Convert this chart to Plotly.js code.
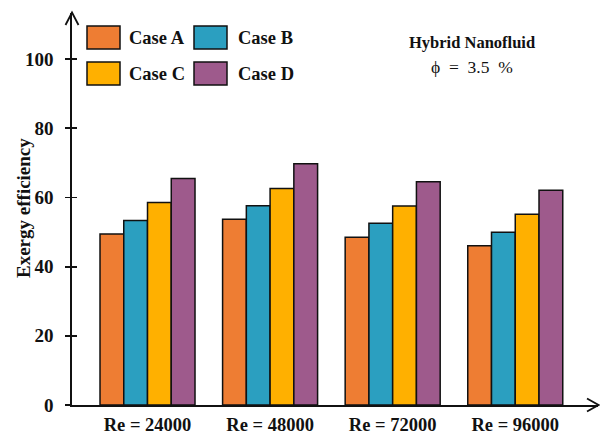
<!DOCTYPE html>
<html>
<head>
<meta charset="utf-8">
<script src="https://cdn.plot.ly/plotly-3.0.1.min.js"></script>
<style>html,body{margin:0;padding:0;background:#fff;}#chart{width:600px;height:436px;}</style>
</head>
<body>
<div id="chart"></div>
<script>
const categories = ["Re = 24000", "Re = 48000", "Re = 72000", "Re = 96000"];
const seriesNames = ["Case A", "Case B", "Case C", "Case D"];
const caseA = [49.4, 53.7, 48.5, 46.0];
const caseB = [53.3, 57.6, 52.5, 49.9];
const caseC = [58.5, 62.6, 57.5, 55.1];
const caseD = [65.5, 69.7, 64.5, 62.1];
const colors = ["#EE7D33", "#2B9FC0", "#FFB000", "#9E5A8C"];
const yTicks = [0, 20, 40, 60, 80, 100];
const yTitle = "Exergy efficiency";

const xIdx = categories.map((c, i) => i);
const allSeries = [caseA, caseB, caseC, caseD];
const traces = allSeries.map((vals, k) => ({
  type: "bar",
  name: seriesNames[k],
  x: xIdx,
  y: vals,
  marker: {color: colors[k], line: {color: "#111", width: 1.5}},
  showlegend: false,
  hoverinfo: "y"
}));
// invisible trace for inner ticks on y axis
traces.push({type: "scatter", x: [0], y: [0], yaxis: "y2", mode: "markers", marker: {opacity: 0}, showlegend: false, hoverinfo: "skip"});

const F = "Liberation Serif, Times New Roman, serif";
const L = 72, R = 598, T = 13, B = 405;
const W = 600, H = 436;
function px(x) { return (x - L) / (R - L); }
function py(y) { return (B - y) / (B - T); }

const shapes = [];
const annotations = [];
// legend boxes
const legendPos = [
  {bx: 87, by: 26, tx: 127},
  {bx: 194, by: 26, tx: 236},
  {bx: 87, by: 62, tx: 127},
  {bx: 194, by: 62, tx: 236}
];
legendPos.forEach((p, k) => {
  shapes.push({type: "rect", xref: "paper", yref: "paper",
    x0: px(p.bx), x1: px(p.bx + 33), y0: py(p.by + 23), y1: py(p.by),
    fillcolor: colors[k], line: {color: "#111", width: 1.5}});
  annotations.push({xref: "paper", yref: "paper", x: px(p.tx), y: py(p.by + 11.5),
    xanchor: "left", yanchor: "middle", showarrow: false, text: "<b>" + seriesNames[k] + "</b>",
    font: {family: F, size: 18.5, color: "#111"}});
});
// axis arrowheads
shapes.push({type: "path", xref: "paper", yref: "paper",
  path: `M ${px(65.5)} ${py(25)} L ${px(72)} ${py(12.5)} L ${px(78.5)} ${py(25)}`,
  line: {color: "#111", width: 1.8}});
shapes.push({type: "path", xref: "paper", yref: "paper",
  path: `M ${px(587)} ${py(398.5)} L ${px(598.5)} ${py(405)} L ${px(587)} ${py(411.5)}`,
  line: {color: "#111", width: 1.8}});

annotations.push({xref: "paper", yref: "paper", x: px(472), y: py(42), xanchor: "center", yanchor: "middle",
  showarrow: false, text: "<b>Hybrid Nanofluid</b>", font: {family: F, size: 16.5, color: "#111"}});
annotations.push({xref: "paper", yref: "paper", x: px(472), y: py(67), xanchor: "center", yanchor: "middle",
  showarrow: false, text: "ϕ&nbsp;&nbsp;=&nbsp;&nbsp;3.5&nbsp;&nbsp;%", font: {family: F, size: 17.5, color: "#111"}});
// y-axis title
annotations.push({xref: "paper", yref: "paper", x: px(23), y: py(208), xanchor: "center", yanchor: "middle",
  showarrow: false, textangle: -90, text: "<b>" + yTitle + "</b>", font: {family: F, size: 19, color: "#111"}});

const layout = {
  width: W, height: H,
  margin: {l: L, r: W - R, t: T, b: H - B},
  paper_bgcolor: "#fff", plot_bgcolor: "#fff",
  barmode: "group", bargap: 0.225, bargroupgap: 0,
  font: {family: F, color: "#111"},
  xaxis: {
    range: [-0.616, 3.675],
    tickvals: xIdx, ticktext: categories.map(c => "<b>" + c + "</b>"),
    tickfont: {family: F, size: 18.5, color: "#111"},
    ticks: "", ticklabelstandoff: 2, showline: true, linecolor: "#111", linewidth: 1.8,
    showgrid: false, zeroline: false, fixedrange: true
  },
  yaxis: {
    range: [0, 113.3],
    tickvals: yTicks, ticktext: yTicks.map(v => "<b>" + v + "</b>"),
    tickfont: {family: F, size: 19, color: "#111"},
    ticks: "outside", ticklen: 5, tickwidth: 1.8, tickcolor: "#111", ticklabelstandoff: 8,
    showline: true, linecolor: "#111", linewidth: 1.8,
    showgrid: false, zeroline: false
  },
  yaxis2: {
    overlaying: "y", range: [0, 113.3], tickvals: yTicks, showticklabels: false,
    ticks: "inside", ticklen: 5, tickwidth: 1.8, tickcolor: "#111",
    showline: false, showgrid: false, zeroline: false, side: "left"
  },
  shapes: shapes,
  annotations: annotations
};

Plotly.newPlot("chart", traces, layout, {displayModeBar: false, staticPlot: true});
</script>
</body>
</html>
